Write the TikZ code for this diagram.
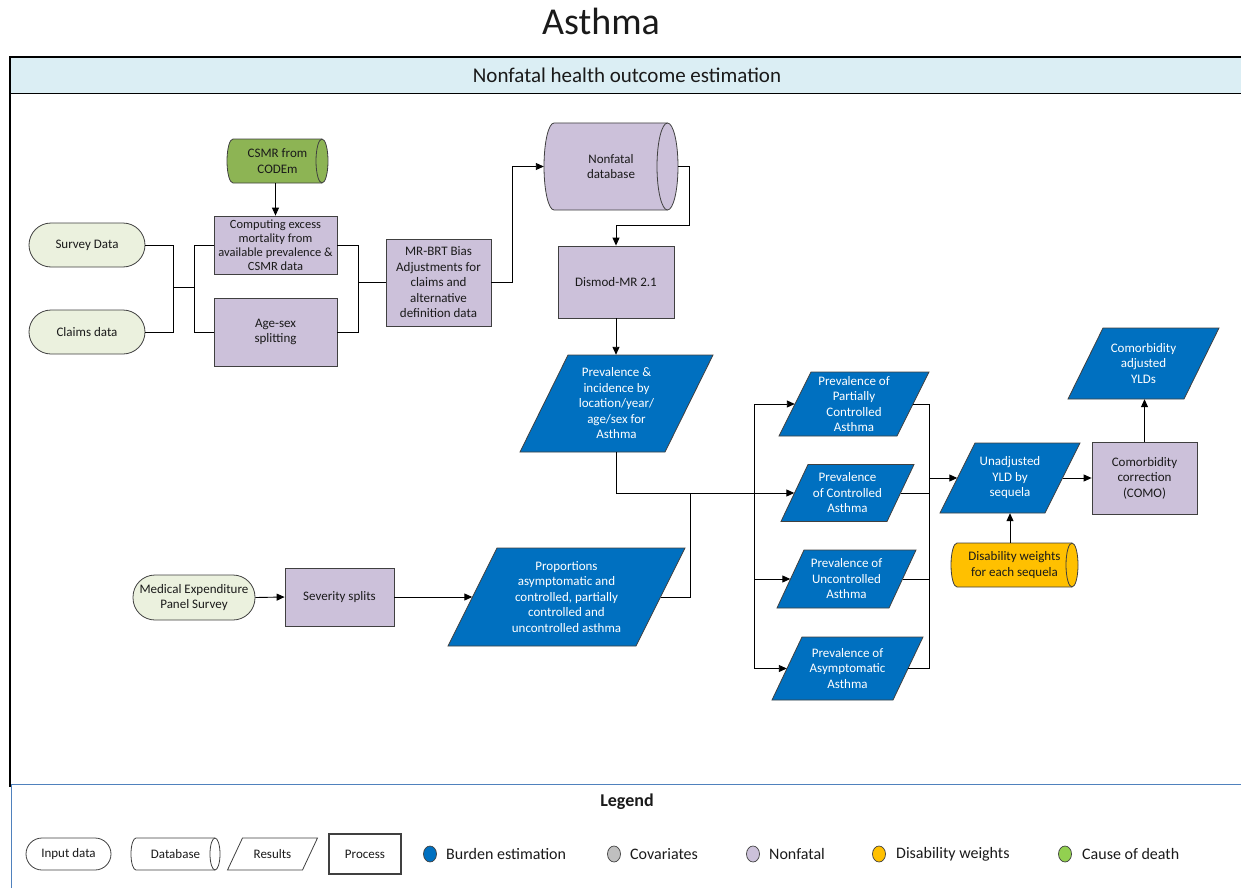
\documentclass[tikz,border=0pt]{standalone}
\usepackage{fontspec}
\setmainfont{Carlito}
\usetikzlibrary{arrows.meta,shapes.geometric}
\definecolor{bd}{HTML}{404040}
\definecolor{blueF}{HTML}{0070C0}
\definecolor{lav}{HTML}{CCC1DA}
\definecolor{inputc}{HTML}{EBF1DE}
\definecolor{greenF}{HTML}{8DB454}
\definecolor{yel}{HTML}{FFC000}
\definecolor{hdr}{HTML}{DBEEF4}
\definecolor{legline}{HTML}{4F81BD}
\definecolor{covc}{HTML}{BFBFBF}
\definecolor{codc}{HTML}{92D050}
\definecolor{txtc}{HTML}{1A1A1A}
\newcommand\mypara[9]{%
 \path[#1] ({#4-#6/2-#8/2},{#5+#7/2}) -- ({#4+#6/2-#8/2},{#5+#7/2}) -- ({#4+#6/2+#8/2},{#5-#7/2}) -- ({#4-#6/2+#8/2},{#5-#7/2}) -- cycle;
 \node[txt, text=#2, minimum width=#6, minimum height=#7] (#3) at (#4,#5) {#9};}
\newcommand\mycyl[9]{%
 \filldraw[fill=#1, draw=bd, line width=0.8pt] ({#3+#7},#4) -- ({#5-#8},#4) arc[start angle=90,end angle=-90,x radius=#8pt,y radius={(#6-#4)/2*1pt}] -- ({#3+#7},#6) arc[start angle=270,end angle=90,x radius=#7pt,y radius={(#6-#4)/2*1pt}] -- cycle;
 \draw[bd, line width=0.8pt] ({#5-#8},#4) arc[start angle=90,end angle=270,x radius=#8pt,y radius={(#6-#4)/2*1pt}];
 \node[txt, minimum width={#5-#3}, minimum height={#6-#4}] (#2) at ({(#3+#5)/2},{(#4+#6)/2}) {#9};}
\begin{document}
\begin{tikzpicture}[x=1pt,y=-1pt,
 txt/.style={font=\fontsize{13}{15.5}\selectfont, align=center, inner sep=0pt, text=txtc},
 small/.style={font=\fontsize{12.5}{14}\selectfont},
 box/.style={txt, draw=bd, line width=0.8pt, fill=lav},
 term/.style={txt, draw=bd, line width=0.8pt, fill=inputc, rounded corners=#1},
 term/.default=22pt,
 bluep/.style={fill=blueF, draw=bd, line width=0.8pt},
 whitep/.style={fill=white, draw=bd, line width=0.8pt},
 arr/.style={line width=0.9pt, -{Triangle[length=8pt,width=7pt]}},
 ln/.style={line width=0.9pt},
 legt/.style={anchor=west, inner sep=0pt, text=txtc, font=\fontsize{16}{18}\selectfont},
 dot/.style={ellipse, draw=bd, line width=0.7pt, minimum width=13, minimum height=16, inner sep=0pt}
]
\useasboundingbox (0,0) rectangle (1241,888);
% title and frame
\node[txt, font=\fontsize{38}{44}\selectfont] (title) at (601,21) {Asthma};
\fill[hdr] (10,57) rectangle (1241,93);
\draw[line width=1.1pt] (1241,57) -- (10,57) -- (10,787);
\draw[line width=0.9pt] (10,93) -- (1241,93);
\node[txt, font=\fontsize{21}{24}\selectfont] (header) at (627,75) {Nonfatal health outcome estimation};
\draw[legline, line width=1pt] (11,888) -- (11,784) -- (1241,784);

% cylinders
\mycyl{greenF}{csmr}{227}{139}{328}{183}{6}{6}{CSMR from\\CODEm}
\mycyl{lav}{db}{544}{123}{678}{210}{10}{10.5}{Nonfatal\\database}
\mycyl{yel}{dw}{951}{543}{1078}{587}{6}{6}{Disability weights\\for each sequela}

% inputs
\node[term, minimum width=116, minimum height=44] (survey) at (87,245) {Survey Data};
\node[term, minimum width=116, minimum height=44] (claims) at (87,332) {Claims data};
\node[term, minimum width=122, minimum height=45] (meps) at (194,597.5) {Medical Expenditure\\Panel Survey};

% process boxes
\node[box, small, minimum width=123, minimum height=58] (comp) at (275.5,245) {Computing excess\\mortality from\\available prevalence \&\\CSMR data};
\node[box, minimum width=123, minimum height=68] (agesex) at (275.5,332) {Age-sex\\splitting};
\node[box, minimum width=105, minimum height=87] (mrbrt) at (438.5,282.5) {MR-BRT Bias\\Adjustments for\\claims and\\alternative\\definition data};
\node[box, minimum width=116, minimum height=72] (dismod) at (616,282) {Dismod-MR 2.1};
\node[box, minimum width=109, minimum height=58] (severity) at (339.5,597) {Severity splits};
\node[box, minimum width=105, minimum height=72] (como) at (1144.5,478) {Comorbidity\\correction\\(COMO)};

% results
\mypara{bluep}{white}{prev}{616.5}{403.5}{145}{97}{48}{Prevalence \&\\incidence by\\location/year/\\age/sex for\\Asthma}
\mypara{bluep}{white}{prop}{566.5}{597}{188}{98}{49}{Proportions\\asymptomatic and\\controlled, partially\\controlled and\\uncontrolled asthma}
\mypara{bluep}{white}{partial}{854}{404}{118}{64}{32}{Prevalence of\\Partially\\Controlled\\Asthma}
\mypara{bluep}{white}{controlled}{847.5}{493}{106}{57}{27}{Prevalence\\of Controlled\\Asthma}
\mypara{bluep}{white}{uncontrolled}{846.5}{579}{112}{58}{27}{Prevalence of\\Uncontrolled\\Asthma}
\mypara{bluep}{white}{asym}{847.5}{668.5}{121}{63}{30}{Prevalence of\\Asymptomatic\\Asthma}
\mypara{bluep}{white}{unadj}{1010}{478}{105}{70}{35}{Unadjusted\\YLD by\\sequela}
\mypara{bluep}{white}{yld}{1143.5}{363.5}{116}{71}{35}{Comorbidity\\adjusted\\YLDs}

% connectors
\draw[arr] (csmr.south -| comp.north) -- (comp.north);
\coordinate (j1) at (173,287);
\coordinate (j2) at (194,287);
\draw[ln] (survey.east) -| (j1);
\draw[ln] (claims.east) -| (j1);
\draw[ln] (j1) -- (j2);
\draw[ln] (j2) |- (comp.west);
\draw[ln] (j2) |- (agesex.west);
\coordinate (j3) at (358,282.5);
\draw[ln] (comp.east) -| (j3);
\draw[ln] (agesex.east) -| (j3);
\draw[ln] (j3) -- (mrbrt.west);
\coordinate (j4) at (512,282.5);
\draw[arr] (mrbrt.east) -- (j4) |- (db.west);
\coordinate (j5) at (689,225);
\draw[arr] (db.east) -| (j5) -| (dismod.north);
\draw[arr] (dismod.south) -- (dismod.south |- prev.north);
\coordinate (bus1) at (754,493);
\coordinate (busT) at (754,404);
\coordinate (busB) at (754,669);
\coordinate (j6) at (690,493);
\draw[ln] (prev.south) |- (bus1);
\draw[ln] (prop.east) -| (j6);
\draw[ln] (busT) -- (busB);
\draw[arr] (busT) -- (partial.west);
\draw[arr] (bus1) -- (controlled.west);
\draw[arr] (uncontrolled.west -| busT) -- (uncontrolled.west);
\draw[arr] (asym.west -| busT) -- (asym.west);
\coordinate (rb) at (929,478);
\draw[ln] (partial.east) -| (rb);
\draw[ln] (asym.east) -| (rb);
\draw[ln] (controlled.east) -- (controlled.east -| rb);
\draw[ln] (uncontrolled.east) -- (uncontrolled.east -| rb);
\draw[arr] (rb) -- (unadj.west);
\draw[arr] (unadj.east) -- (como.west);
\draw[arr] (como.north) -- (como.north |- yld.south);
\draw[arr] (unadj.south |- dw.north) -- (unadj.south);
\draw[arr] (meps.east) -- (severity.west);
\draw[arr] (severity.east) -- (prop.west);

% legend
\node[txt, font=\bfseries\fontsize{18}{20}\selectfont] (legend) at (627,802) {Legend};
\node[term=16pt, fill=white, minimum width=85, minimum height=32] (lin) at (68.5,854) {Input data};
\mycyl{white}{ldb}{131}{838}{220}{870}{5}{5}{Database}
\mypara{whitep}{txtc}{lres}{272.5}{854}{75}{32}{15}{Results}
\node[txt, draw=bd, line width=1.1pt, minimum width=72, minimum height=40] (lproc) at (365,854) {Process};
\node[dot, fill=blueF] (d1) at (430,854) {};
\node[legt] (t1) at (446,854) {Burden estimation};
\node[dot, fill=covc] (d2) at (614,854) {};
\node[legt] (t2) at (630,854) {Covariates};
\node[dot, fill=lav] (d3) at (753,854) {};
\node[legt] (t3) at (769,854) {Nonfatal};
\node[dot, fill=yel] (d4) at (879,854) {};
\node[legt] (t4) at (896,854) {Disability weights};
\node[dot, fill=codc] (d5) at (1065,854) {};
\node[legt] (t5) at (1082,854) {Cause of death};
\end{tikzpicture}
\end{document}
